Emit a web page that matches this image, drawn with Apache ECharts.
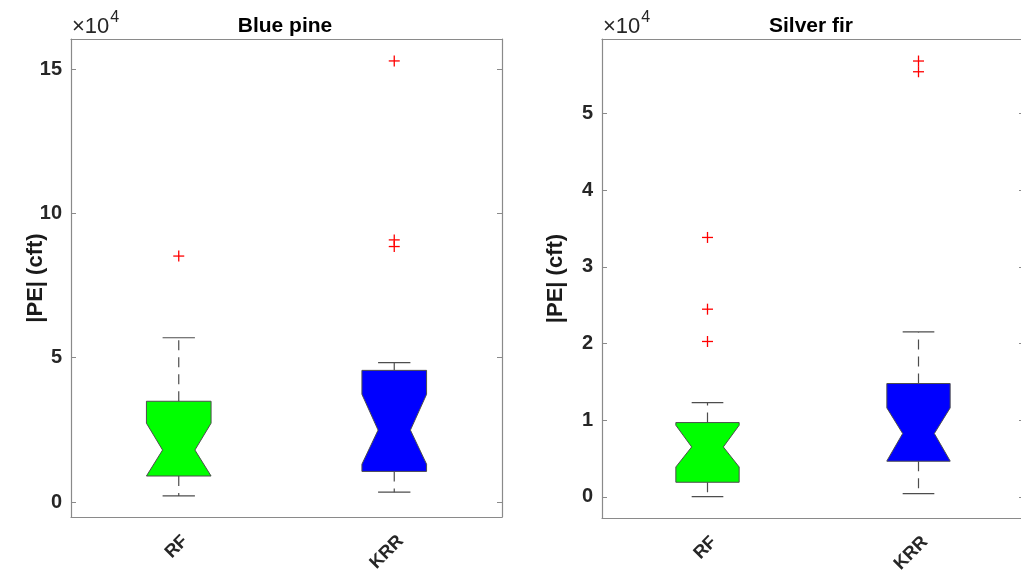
<!DOCTYPE html>
<html>
<head>
<meta charset="utf-8">
<script src="https://cdn.jsdelivr.net/npm/echarts@6/dist/echarts.min.js"></script>
<style>html,body{margin:0;padding:0;background:#fff}#c{width:1021px;height:573px}</style>
</head>
<body>
<div id="c"></div>
<script>
const categories = ['RF', 'KRR'];
const panelTitles = ['Blue pine', 'Silver fir'];
const boxColors = ['#00ff00', '#0000ff'];

// Blue pine (cft)
const bpWhiskerLow  = [2100, 3400];
const bpQ1          = [9000, 10600];
const bpNotchLow    = [9000, 13100];
const bpMedian      = [18000, 24900];
const bpNotchHigh   = [27300, 37300];
const bpQ3          = [34900, 45600];
const bpWhiskerHigh = [56900, 48300];
const bpOutliers    = [[0, 85200], [1, 90800], [1, 88500], [1, 152800]];
const bpTicks       = [0, 50000, 100000, 150000];

// Silver fir (cft)
const sfWhiskerLow  = [50, 440];
const sfQ1          = [1920, 4660];
const sfNotchLow    = [3910, 4700];
const sfMedian      = [6520, 8270];
const sfNotchHigh   = [9350, 11610];
const sfQ3          = [9700, 14790];
const sfWhiskerHigh = [12310, 21520];
const sfOutliers    = [[0, 33830], [0, 24480], [0, 20270], [1, 56830], [1, 55430]];
const sfTicks       = [0, 10000, 20000, 30000, 40000, 50000];

const FONT = 'Liberation Sans, Arial, sans-serif';
const AXIS_COLOR = '#8a8a8a';
const EDGE = '#4d4d4d';

function boxData(wl, q1, nl, md, nh, q3, wh) {
  return categories.map((c, i) => [i, wl[i], q1[i], nl[i], md[i], nh[i], q3[i], wh[i]]);
}

function renderBox(params, api) {
  const i = api.value(0);
  const band = api.size([1, 0])[0];
  const w = band * 0.15, nw = band * 0.075;
  const xc = api.coord([i, 0])[0];
  const y = k => api.coord([i, api.value(k)])[1];
  const wl = y(1), q1 = y(2), nl = y(3), md = y(4), nh = y(5), q3 = y(6), wh = y(7);
  const lineStyle = { stroke: EDGE, lineWidth: 1.2 };
  const dashed = { stroke: EDGE, lineWidth: 1.2, lineDash: [10, 7] };
  return {
    type: 'group',
    children: [
      { type: 'line', shape: { x1: xc, y1: q3, x2: xc, y2: wh }, style: dashed },
      { type: 'line', shape: { x1: xc, y1: q1, x2: xc, y2: wl }, style: dashed },
      { type: 'line', shape: { x1: xc - nw, y1: wh, x2: xc + nw, y2: wh }, style: lineStyle },
      { type: 'line', shape: { x1: xc - nw, y1: wl, x2: xc + nw, y2: wl }, style: lineStyle },
      {
        type: 'polygon',
        shape: {
          points: [
            [xc - w, q1], [xc - w, nl], [xc - nw, md], [xc - w, nh], [xc - w, q3],
            [xc + w, q3], [xc + w, nh], [xc + nw, md], [xc + w, nl], [xc + w, q1]
          ]
        },
        style: { fill: boxColors[i], stroke: EDGE, lineWidth: 1 }
      }
    ]
  };
}

function renderPlus(params, api) {
  const p = api.coord([api.value(0), api.value(1)]);
  const s = 5.5;
  const st = { stroke: '#ff0000', lineWidth: 1.3 };
  return {
    type: 'group',
    children: [
      { type: 'line', shape: { x1: p[0] - s, y1: p[1], x2: p[0] + s, y2: p[1] }, style: st },
      { type: 'line', shape: { x1: p[0], y1: p[1] - s, x2: p[0], y2: p[1] + s }, style: st }
    ]
  };
}

const grids = [
  { left: 71, top: 39, width: 431, height: 478, outerBoundsMode: 'none', containLabel: false },
  { left: 602, top: 39, width: 422, height: 479, outerBoundsMode: 'none', containLabel: false }
];
const yRanges = [[-5200, 160400], [-2740, 59700]];
const yTicks = [bpTicks, sfTicks];
const yNameGaps = [35, 46];

const xAxes = [], yAxes = [];
[0, 1].forEach(g => {
  xAxes.push({
    type: 'category', data: categories, gridIndex: g, position: 'bottom',
    axisLine: { onZero: false, lineStyle: { color: AXIS_COLOR, width: 1.2 } },
    axisTick: { inside: true, length: 5, alignWithLabel: true, lineStyle: { color: AXIS_COLOR } },
    axisLabel: { rotate: 45, margin: 15, verticalAlign: 'top', color: '#262626', fontFamily: FONT, fontWeight: 'bold', fontSize: 18 }
  });
  xAxes.push({
    type: 'category', data: categories, gridIndex: g, position: 'top',
    axisLine: { onZero: false, lineStyle: { color: AXIS_COLOR, width: 1.2 } },
    axisTick: { inside: true, length: 5, alignWithLabel: true, lineStyle: { color: AXIS_COLOR } },
    axisLabel: { show: false }
  });
  yAxes.push({
    type: 'value', gridIndex: g, position: 'left',
    min: yRanges[g][0], max: yRanges[g][1],
    name: '|PE| (cft)', nameLocation: 'middle', nameGap: yNameGaps[g], nameRotate: 90,
    nameMoveOverlap: false,
    nameTextStyle: { color: '#1a1a1a', fontFamily: FONT, fontWeight: 'bold', fontSize: 22, verticalAlign: 'middle' },
    splitLine: { show: false },
    axisLine: { show: true, onZero: false, lineStyle: { color: AXIS_COLOR, width: 1.2 } },
    axisTick: { show: true, inside: true, length: 5, customValues: yTicks[g], lineStyle: { color: AXIS_COLOR } },
    axisLabel: {
      customValues: yTicks[g], margin: 9, color: '#262626', fontFamily: FONT, fontWeight: 'bold', fontSize: 20,
      formatter: v => String(Math.round(v / 1e4))
    }
  });
  yAxes.push({
    type: 'value', gridIndex: g, position: 'right',
    min: yRanges[g][0], max: yRanges[g][1],
    splitLine: { show: false },
    axisLine: { show: true, onZero: false, lineStyle: { color: AXIS_COLOR, width: 1.2 } },
    axisTick: { show: true, inside: true, length: 5, customValues: yTicks[g], lineStyle: { color: AXIS_COLOR } },
    axisLabel: { show: false }
  });
});

const boxSets = [
  boxData(bpWhiskerLow, bpQ1, bpNotchLow, bpMedian, bpNotchHigh, bpQ3, bpWhiskerHigh),
  boxData(sfWhiskerLow, sfQ1, sfNotchLow, sfMedian, sfNotchHigh, sfQ3, sfWhiskerHigh)
];
const outlierSets = [bpOutliers, sfOutliers];

const series = [];
[0, 1].forEach(g => {
  series.push({
    type: 'custom', xAxisIndex: g * 2, yAxisIndex: g * 2,
    renderItem: renderBox, data: boxSets[g], encode: { x: 0, y: [1, 7] }, silent: true
  });
  series.push({
    type: 'custom', xAxisIndex: g * 2, yAxisIndex: g * 2,
    renderItem: renderPlus, data: outlierSets[g], encode: { x: 0, y: 1 }, silent: true
  });
});

const titleCenters = [280, 806];
const titles = panelTitles.map((t, g) => ({
  text: t, left: titleCenters[g], top: 11, textAlign: 'center',
  textStyle: { color: '#000', fontFamily: FONT, fontWeight: 'bold', fontSize: 21 }
}));

const graphics = [0, 1].map(g => ({
  type: 'text', left: grids[g].left + 1, top: 10,
  style: {
    text: '{a|×10}{b|4}',
    rich: {
      a: { fontFamily: FONT, fontSize: 22, fill: '#262626', verticalAlign: 'bottom', lineHeight: 28 },
      b: { fontFamily: FONT, fontSize: 16, fill: '#262626', verticalAlign: 'top', lineHeight: 28, padding: [0, 0, 12, 1] }
    }
  }
}));

const chart = echarts.init(document.getElementById('c'), null, { renderer: 'canvas' });
chart.setOption({
  animation: false,
  backgroundColor: '#fff',
  title: titles,
  grid: grids,
  xAxis: xAxes,
  yAxis: yAxes,
  series: series,
  graphic: graphics
});
</script>
</body>
</html>
